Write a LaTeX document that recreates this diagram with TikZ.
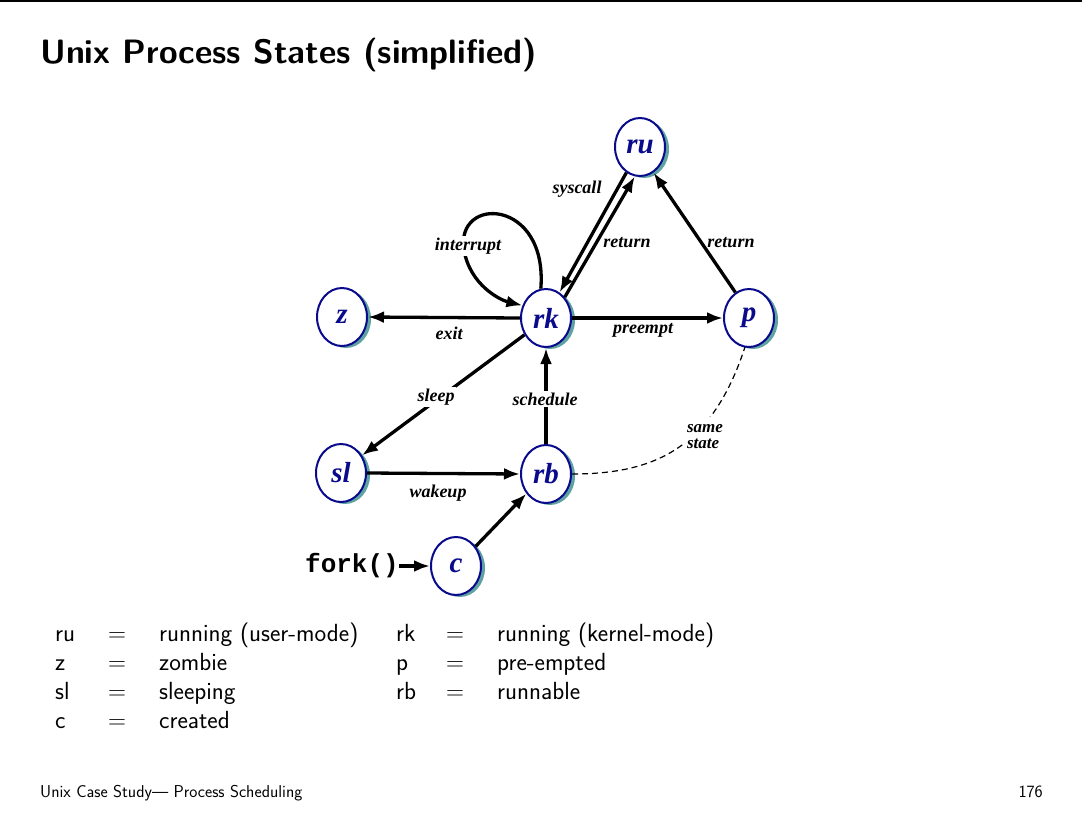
\documentclass[tikz,border=0pt]{standalone}
\usepackage{fontspec}
\usetikzlibrary{shapes.geometric,arrows.meta,shadows}
\newfontfamily\statefont{Liberation Serif}
\newfontfamily\codefont{Liberation Mono}
\definecolor{statenavy}{RGB}{10,10,140}
\definecolor{stateshadow}{RGB}{95,162,162}
\begin{document}
\begin{tikzpicture}[x=1pt,y=-1pt,
  state/.style={ellipse, draw=statenavy, line width=2pt, fill=white,
    minimum width=50pt, minimum height=58pt, inner sep=0pt,
    font=\fontsize{29}{30}\statefont\bfseries\itshape, text=statenavy,
    drop shadow={shadow xshift=4pt, shadow yshift=-2pt, fill=stateshadow, opacity=1}},
  trans/.style={line width=3.3pt, -{Latex[length=16pt,width=12pt]}},
  lbl/.style={font=\fontsize{18}{18}\statefont\bfseries\itshape, inner sep=2pt},
  cutlbl/.style={lbl, fill=white},
  legend/.style={font=\fontsize{24.8}{26}\sffamily, anchor=base west, inner sep=0pt},
  eqsign/.style={font=\fontsize{24.8}{26}\selectfont, anchor=base, inner sep=0pt}]
\useasboundingbox (0,0) rectangle (1082,836);
\fill[white] (0,0) rectangle (1082,836);
% header rule and title
\draw[line width=2pt] (0,1) -- (1082,1);
\node[anchor=base west, inner sep=0pt, font=\fontsize{33.8}{36}\sffamily\bfseries] (title) at (40,63) {Unix Process States (simplified)};

% states
\node[state] (ru) at (640,147) {ru};
\node[state] (z)  at (342,317) {z};
\node[state] (rk) at (546,318) {rk};
\node[state] (p)  at (749,318) {p};
\node[state] (sl) at (341,473) {sl};
\node[state] (rb) at (546,474) {rb};
\node[state] (c)  at (456,566) {c};
\node[font=\fontsize{26}{28}\codefont\bfseries, inner sep=0pt] (fork) at (352,566) {fork()};

% transitions
\draw[trans] (rk.west) -- (z.east);
\node[lbl] (exitl) at (449,333) {exit};
\draw[trans] (rk.east) -- (p.west);
\node[lbl] (preemptl) at (643,330) {preempt};
\draw[trans] (p.118) -- (ru.-62);
\node[lbl] (retpl) at (731,243) {return};
\draw[trans] (ru.-118) -- (rk.62);
\node[lbl] (syscalll) at (577,189) {syscall};
\draw[trans] (rk.48) -- (ru.-100);
\node[lbl] (retkl) at (627,243) {return};
\draw[trans] (rk.100) .. controls (548,198) and (455,195) .. (464,250)
  .. controls (470,285) and (500,300) .. (rk.152);
\node[cutlbl] (intr) at (468,246) {interrupt};
\draw[trans] (rk.218) -- (sl.40);
\node[cutlbl] (sleepl) at (436,397) {sleep};
\draw[trans] (rb.north) -- (rk.south);
\node[cutlbl] (schedl) at (545,399) {schedule};
\draw[trans] (sl.east) -- (rb.west);
\node[lbl] (wakel) at (438,493) {wakeup};
\draw[trans] (c.45) -- (rb.225);
\draw[trans] (fork.east) -- (c.west);
\draw[line width=1.2pt, dash pattern=on 6pt off 4pt] (rb.east) .. controls (655,474) and (712,448) .. (745,347);
\node[cutlbl, align=left, inner xsep=3pt, inner ysep=8pt, font=\fontsize{17}{16}\statefont\bfseries\itshape] (same) at (705,437) {same\\state};

% legend
\node[legend] (l1a) at (55,641) {ru};
\node[eqsign] (l1b) at (117,641) {$=$};
\node[legend] (l1c) at (159,641) {running (user-mode)};
\node[legend] (l2a) at (55,670) {z};
\node[eqsign] (l2b) at (117,670) {$=$};
\node[legend] (l2c) at (159,670) {zombie};
\node[legend] (l3a) at (55,699) {sl};
\node[eqsign] (l3b) at (117,699) {$=$};
\node[legend] (l3c) at (159,699) {sleeping};
\node[legend] (l4a) at (55,728) {c};
\node[eqsign] (l4b) at (117,728) {$=$};
\node[legend] (l4c) at (159,728) {created};
\node[legend] (r1a) at (396,641) {rk};
\node[eqsign] (r1b) at (455,641) {$=$};
\node[legend] (r1c) at (497,641) {running (kernel-mode)};
\node[legend] (r2a) at (396,670) {p};
\node[eqsign] (r2b) at (455,670) {$=$};
\node[legend] (r2c) at (497,670) {pre-empted};
\node[legend] (r3a) at (396,699) {rb};
\node[eqsign] (r3b) at (455,699) {$=$};
\node[legend] (r3c) at (497,699) {runnable};

% footer
\node[anchor=base west, inner sep=0pt, font=\fontsize{17.2}{18}\sffamily] (foot) at (40,797) {Unix Case Study--- Process Scheduling};
\node[anchor=base east, inner sep=0pt, font=\fontsize{17.2}{18}\sffamily] (page) at (1043,797) {176};
\end{tikzpicture}
\end{document}
